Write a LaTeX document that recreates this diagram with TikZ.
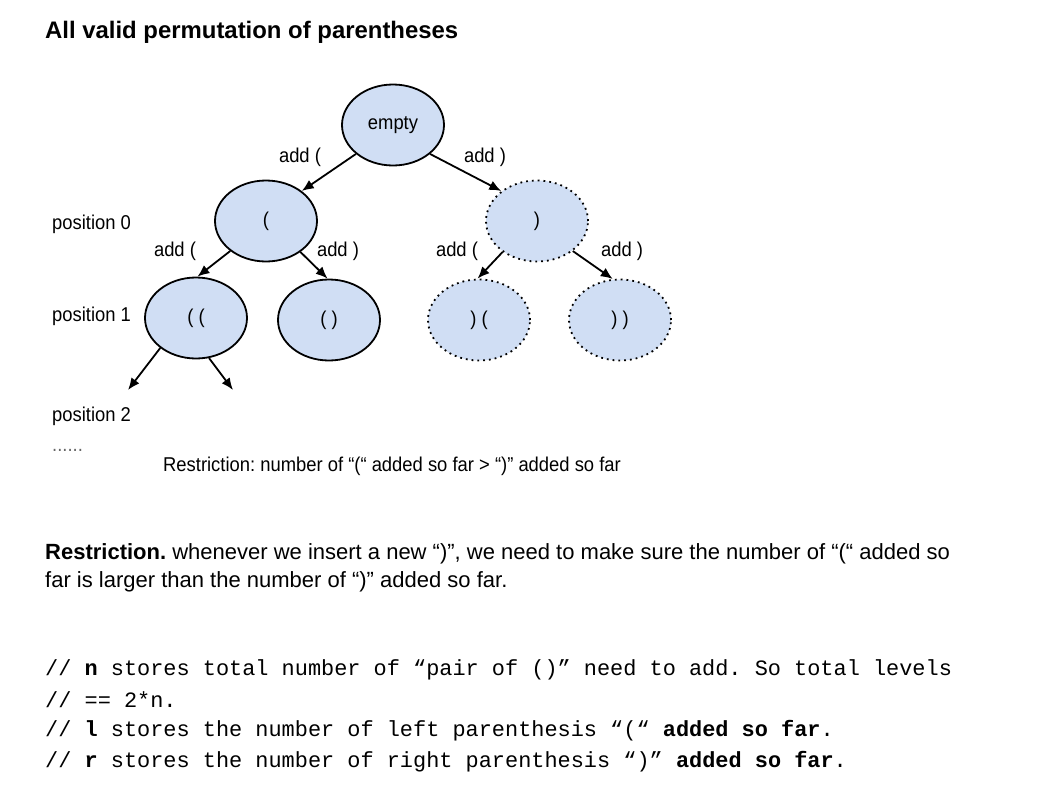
\documentclass[tikz,border=0pt]{standalone}
\usepackage{fontspec}
\setmainfont{Liberation Sans}
\newfontfamily\narrowfont[FakeStretch=0.92]{Liberation Sans}
\newfontfamily\codefont{Liberation Mono}
\usetikzlibrary{arrows.meta,shapes,positioning}
\definecolor{nodeblue}{RGB}{208,222,244}
\frenchspacing

\begin{document}
\begin{tikzpicture}[x=1pt,y=-1pt,
  state/.style={draw,ellipse,fill=nodeblue,line width=1.8pt,inner sep=0pt,
    minimum width=102pt,minimum height=81pt,font=\narrowfont\fontsize{20}{22}\selectfont},
  ghost/.style={state,dash pattern=on 1.8pt off 4pt},
  edge/.style={-{Latex[length=12pt,width=10pt]},line width=1.8pt},
  lbl/.style={inner sep=0pt,font=\narrowfont\fontsize{20}{22}\selectfont},
  para/.style={inner sep=0pt,anchor=west,font=\fontsize{22}{24}\selectfont},
  code/.style={inner sep=0pt,anchor=west,font=\codefont\fontsize{21.9}{26}\selectfont}]
  \useasboundingbox (0,0) rectangle (1054,803);
  % Title
  \path (45,32) node[anchor=west,inner sep=0pt,font=\bfseries\fontsize{23.9}{26}\selectfont] (title) {All valid permutation of parentheses};
  % Define the states of the tree
  \path (393,125) node[state] (E) {empty};
  \path (266,221) node[state] (L) {(};
  \path (537,221) node[ghost] (R) {)};
  \path (196,318) node[state] (LL) {( (};
  \path (329,320) node[state] (LR) {( )};
  \path (479,320) node[ghost] (RL) {) (};
  \path (620,320) node[ghost] (RR) {) )};
  \coordinate (LLa) at (128,390);
  \coordinate (LLb) at (233,390);
  % Draw the edges of the tree
  \draw[edge] (E.218) -- (L.40);
  \draw[edge] (E.322) -- (R.140);
  \draw[edge] (L.220) -- (LL.88);
  \draw[edge] (L.318) -- (LR.92);
  \draw[edge] (R.222) -- (RL.92);
  \draw[edge] (R.320) -- (RR.100);
  \draw[edge] (LL.220) -- (LLa);
  \draw[edge] (LL.288) -- (LLb);
  % Edge labels
  \path (300,157) node[lbl] (eL) {add (};
  \path (485,157) node[lbl] (eR) {add )};
  \path (175,251) node[lbl] (eLL) {add (};
  \path (338,251) node[lbl] (eLR) {add )};
  \path (457,251) node[lbl] (eRL) {add (};
  \path (622,251) node[lbl] (eRR) {add )};
  % Positions on the left
  \path (52,224) node[lbl,anchor=west] (p0) {position 0};
  \path (52,316) node[lbl,anchor=west] (p1) {position 1};
  \path (52,416) node[lbl,anchor=west] (p2) {position 2};
  \path (52,451) node[lbl,anchor=base west,text=black!60] (pdots) {......};
  \path (163,466) node[lbl,anchor=west] (rule) {Restriction: number of “(“ added so far > “)” added so far};
  % Text below
  \path (45,554) node[para] (t1) {\textbf{Restriction.} whenever we insert a new “)”, we need to make sure the number of “(“ added so};
  \path (45,582) node[para] (t2) {far is larger than the number of “)” added so far.};
  \path (45,670) node[code] (c1) {// \textbf{n} stores total number of “pair of ()” need to add. So total levels};
  \path (45,700) node[code] (c2) {// == 2*n.};
  \path (45,731) node[code] (c3) {// \textbf{l} stores the number of left parenthesis “(“ \textbf{added so far}.};
  \path (45,762) node[code] (c4) {// \textbf{r} stores the number of right parenthesis “)” \textbf{added so far}.};
\end{tikzpicture}
\end{document}
